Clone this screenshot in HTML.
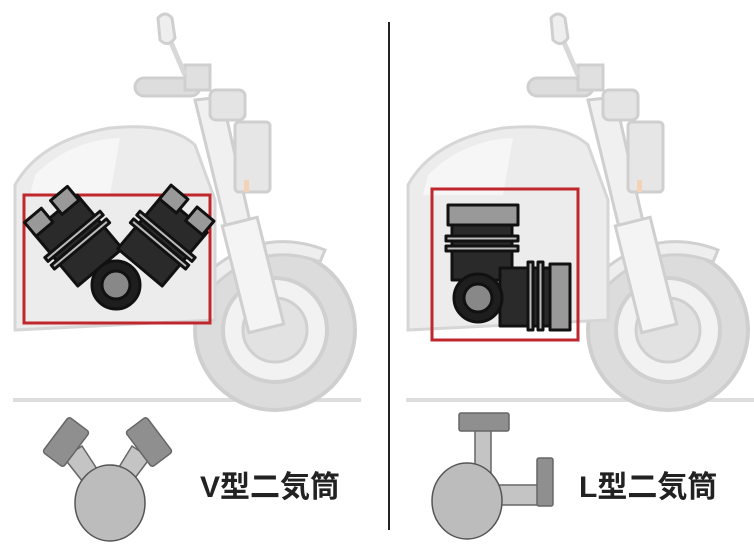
<!DOCTYPE html>
<html><head><meta charset="utf-8"><style>
body{margin:0;background:#fff;width:754px;height:559px;overflow:hidden}
svg{display:block}
text{font-family:"Liberation Sans","Noto Sans CJK JP",sans-serif;font-weight:bold}
</style></head><body>
<svg width="754" height="559" viewBox="0 0 754 559">
<defs>
<g id="bike">
  <rect x="13" y="398" width="348" height="4" fill="#ddd"/>
  <circle cx="275" cy="330" r="80" fill="#dcdcdc" stroke="#cfcfcf" stroke-width="4"/>
  <circle cx="275" cy="330" r="52" fill="#f2f2f2" stroke="#d0d0d0" stroke-width="4"/>
  <circle cx="275" cy="330" r="32" fill="#e2e2e2" stroke="#d0d0d0" stroke-width="3"/>
  <path d="M205 275 Q260 225 325 250 L320 262 Q262 240 215 285 Z" fill="#eee" stroke="#d0d0d0" stroke-width="3"/>
  <path d="M15 185 Q40 140 110 128 Q170 122 195 145 L215 200 L215 320 L15 330 Z" fill="#ececec" stroke="#d6d6d6" stroke-width="3"/>
  <path d="M35 175 Q70 140 120 138 L110 195 L30 195 Z" fill="#f6f6f6"/>
  <path d="M195 100 L222 97 L272 320 L250 326 Z" fill="#f0f0f0" stroke="#cfcfcf" stroke-width="3"/>
  <rect x="235" y="220" width="36" height="110" fill="#f4f4f4" stroke="#cfcfcf" stroke-width="3" transform="rotate(-14 253 275)"/>
  <rect x="235" y="122" width="35" height="70" rx="4" fill="#e6e6e6" stroke="#cfcfcf" stroke-width="3"/>
  <rect x="210" y="90" width="35" height="30" rx="6" fill="#e4e4e4" stroke="#cfcfcf" stroke-width="3"/>
  <rect x="135" y="78" width="65" height="18" rx="9" fill="#ddd" stroke="#cfcfcf" stroke-width="3"/>
  <rect x="185" y="65" width="25" height="25" fill="#e0e0e0" stroke="#cfcfcf" stroke-width="3"/>
  <line x1="170" y1="40" x2="185" y2="75" stroke="#d8d8d8" stroke-width="5"/>
  <path d="M158 18 Q165 10 172 18 L175 38 Q168 48 160 40 Z" fill="#eee" stroke="#cfcfcf" stroke-width="3"/>
  <rect x="244" y="180" width="5" height="12" fill="#f3d3b8"/>
</g>
</defs>

<use href="#bike" x="0" y="0"/>
<use href="#bike" x="393" y="0"/>

<rect x="24" y="195" width="186" height="128" fill="none" stroke="#c0272d" stroke-width="3"/>
<g stroke="#111" stroke-width="3" stroke-linejoin="round">
  <g transform="rotate(-40 80 245)">
    <rect x="52" y="205" width="58" height="70" fill="#2a2a2a"/>
    <rect x="45" y="232" width="72" height="5" fill="#bbb"/>
    <rect x="45" y="242" width="72" height="5" fill="#bbb"/>
    <rect x="52" y="192" width="22" height="18" fill="#999"/>
    <rect x="86" y="192" width="22" height="18" fill="#999"/>
  </g>
  <g transform="rotate(40 160 245)">
    <rect x="130" y="205" width="58" height="70" fill="#2a2a2a"/>
    <rect x="123" y="232" width="72" height="5" fill="#bbb"/>
    <rect x="123" y="242" width="72" height="5" fill="#bbb"/>
    <rect x="130" y="192" width="22" height="18" fill="#999"/>
    <rect x="164" y="192" width="22" height="18" fill="#999"/>
  </g>
  <circle cx="116" cy="285" r="24" fill="#1e1e1e"/>
  <circle cx="116" cy="285" r="14" fill="#888"/>
</g>

<rect x="432" y="189" width="146" height="151" fill="none" stroke="#c0272d" stroke-width="3"/>
<g stroke="#111" stroke-width="3" stroke-linejoin="round">
  <rect x="448" y="205" width="70" height="20" fill="#999"/>
  <rect x="452" y="225" width="60" height="55" fill="#2a2a2a"/>
  <rect x="446" y="236" width="72" height="5" fill="#bbb"/>
  <rect x="446" y="246" width="72" height="5" fill="#bbb"/>
  <rect x="500" y="268" width="52" height="58" fill="#2a2a2a"/>
  <rect x="528" y="262" width="5" height="68" fill="#bbb"/>
  <rect x="538" y="262" width="5" height="68" fill="#bbb"/>
  <rect x="550" y="264" width="20" height="66" fill="#999"/>
  <circle cx="478" cy="298" r="24" fill="#1e1e1e"/>
  <circle cx="478" cy="298" r="14" fill="#888"/>
</g>

<line x1="389" y1="22" x2="389" y2="530" stroke="#222" stroke-width="2"/>

<g stroke="#666" stroke-width="1.5">
  <polygon points="64,458 82,446 116,498 102,506" fill="#c4c4c4"/>
  <polygon points="150,458 132,446 100,498 114,506" fill="#c4c4c4"/>
  <rect x="-22" y="-13" width="44" height="26" rx="3" fill="#8f8f8f" transform="translate(66 442) rotate(-53)"/>
  <rect x="-22" y="-13" width="44" height="26" rx="3" fill="#8f8f8f" transform="translate(149 442) rotate(53)"/>
  <ellipse cx="110" cy="503" rx="35" ry="38" fill="#bcbcbc" stroke="#555"/>
</g>
<text x="200" y="497" font-size="30" fill="#222">V型二気筒</text>

<g stroke="#666" stroke-width="1.5">
  <rect x="475" y="428" width="16" height="50" fill="#c4c4c4"/>
  <rect x="490" y="485" width="50" height="20" fill="#c4c4c4"/>
  <rect x="459" y="413" width="50" height="18" rx="2" fill="#8f8f8f"/>
  <rect x="537" y="458" width="16" height="48" rx="2" fill="#8f8f8f"/>
  <ellipse cx="467" cy="501" rx="35" ry="38" fill="#bcbcbc" stroke="#555"/>
</g>
<text x="579" y="497" font-size="30" fill="#222">L型二気筒</text>
</svg>
</body></html>
